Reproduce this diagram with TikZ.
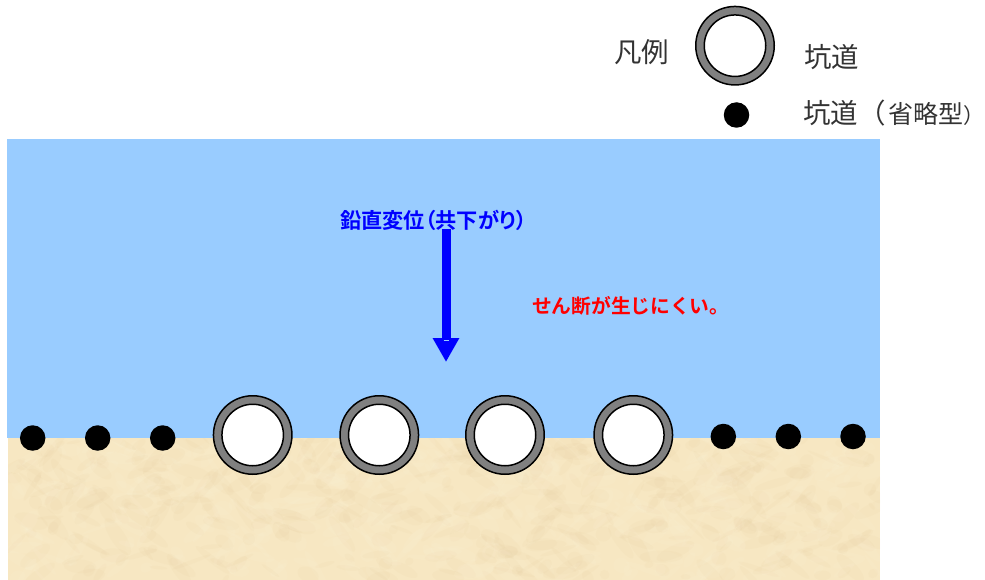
\documentclass[tikz,border=0pt]{standalone}
\usepackage{fontspec}
\usetikzlibrary{arrows.meta}
\setmainfont{Noto Sans CJK JP}
\newfontfamily\proplabel{Noto Sans CJK JP}[BoldFont={Noto Sans CJK JP Bold},RawFeature=+palt]
\newfontfamily\fulllabel{Noto Sans CJK JP}[BoldFont={Noto Sans CJK JP Bold}]
\definecolor{water}{HTML}{99CCFF}
\definecolor{sand}{HTML}{F7E7C2}
\definecolor{sanddark}{HTML}{DDBD88}
\definecolor{sandlight}{HTML}{FDF3D8}
\definecolor{ringgray}{HTML}{808080}
\definecolor{legendtext}{HTML}{333333}
\definecolor{deepblue}{HTML}{0000FF}
\tikzset{
  tunnel/.style={circle,draw=black,line width=1.5pt,fill=ringgray,minimum size=78.5pt,inner sep=0pt,outer sep=0pt},
  bore/.style={circle,draw=black,line width=1.5pt,fill=white,minimum size=61.5pt,inner sep=0pt,outer sep=0pt},
  shaftdot/.style={circle,fill=black,minimum size=25.5pt,inner sep=0pt,outer sep=0pt},
  legendlabel/.style={font=\fontsize{27.5}{28}\selectfont,text=legendtext,inner sep=0pt,anchor=west},
  bluelabel/.style={font=\proplabel\fontsize{21.2}{22}\selectfont\bfseries,text=deepblue,inner sep=0pt},
  redlabel/.style={font=\fulllabel\fontsize{19.75}{20}\selectfont\bfseries,text=red,inner sep=0pt,anchor=west},
  displacement/.style={draw=deepblue,line width=9pt,-{Triangle[length=24pt,width=25pt,fill=deepblue]}}
}
\begin{document}
\begin{tikzpicture}[x=1pt,y=-1pt]
\useasboundingbox (0,0) rectangle (985,580);
% water body and sea floor
\fill[water] (7,139) rectangle (880,438);
\fill[sand] (8,438) rectangle (880,580);
% mottled texture of the sediment
\begin{scope}
\clip (8,438) rectangle (880,580);
\pgfmathsetseed{4127}
\foreach \i in {1,...,900}{
  \pgfmathsetmacro{\px}{8+872*rnd}
  \pgfmathsetmacro{\py}{438+142*rnd}
  \pgfmathsetmacro{\ra}{4+18*rnd}
  \pgfmathsetmacro{\rb}{1.5+6*rnd}
  \pgfmathsetmacro{\rot}{-60+120*rnd}
  \pgfmathsetmacro{\pick}{rnd}
  \ifdim\pick pt<0.5pt
    \fill[sanddark,opacity=0.06,rotate around={\rot:(\px,\py)}] (\px,\py) ellipse ({\ra} and {\rb});
  \else
    \fill[sandlight,opacity=0.13,rotate around={\rot:(\px,\py)}] (\px,\py) ellipse ({\ra} and {\rb});
  \fi
}
\end{scope}
% tunnels along the boundary
\foreach \n/\cx in {a/252.7,b/379.3,c/505,d/633.3}{
  \node[tunnel] (ring\n) at (\cx,435) {};
  \node[bore] (bore\n) at (ring\n.center) {};
}
% abbreviated tunnels
\foreach \n/\cx in {a/32.7,b/97.7,c/162.7}{
  \node[shaftdot] (left\n) at (\cx,438) {};
}
\foreach \n/\cx in {a/723.3,b/788.3,c/853}{
  \node[shaftdot] (right\n) at (\cx,436.5) {};
}
% legend
\node[tunnel] (keyring) at (735,45.7) {};
\node[bore] (keybore) at (keyring.center) {};
\node[shaftdot] (keydot) at (736.5,115) {};
\node[legendlabel] (legendtitle) at (614,52) {凡例};
\node[legendlabel] (keyname) at (804,57) {坑道};
\node[legendlabel] (keyshort) at (803,113) {坑道（\kern3pt{\fontsize{25}{28}\selectfont 省略型}{\fontsize{21}{28}\selectfont ）}};
% vertical displacement
\node[bluelabel] (movelabel) at (433.5,220) {鉛直変位（共下がり）};
\coordinate (arrowstart) at (446,229);
\coordinate (arrowend) at (446,362);
\draw[displacement] (arrowstart) -- (arrowend);
\draw[water,line width=1pt] (443.5,340.5) -- (448.5,340.5);
\node[redlabel] (shearlabel) at (532,306) {せん断が生じにくい。};
\end{tikzpicture}
\end{document}
